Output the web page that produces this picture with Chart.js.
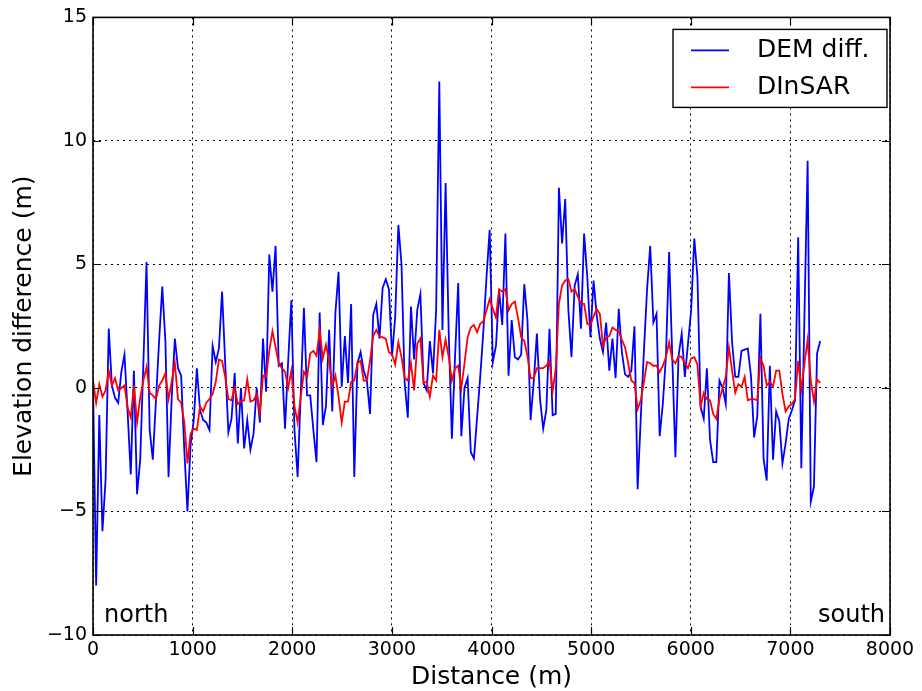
<!DOCTYPE html>
<html>
<head>
<meta charset="utf-8">
<title>Elevation difference profile</title>
<script src="https://cdn.jsdelivr.net/npm/chart.js@4/dist/chart.umd.min.js"></script>
<style>
  html, body { margin: 0; padding: 0; background: #fff; }
  #wrap { width: 922px; height: 691px; }
</style>
</head>
<body>
<div id="wrap"><canvas id="profileChart" width="922" height="691"></canvas></div>
<script>
// profile sample spacing along the track (m)
const sampleStep = 31.6;

// DEM difference along the profile (m), one value per sample
const demDiff = [
  0.2, -8.0, -1.1, -5.8, -3.7, 2.4, 0.1, -0.4, -0.6, 0.65,
  1.35, -1.0, -3.5, 0.7, -4.3, -2.9, 1.0, 5.1, -1.7, -2.9,
  -0.5, 1.9, 4.1, 1.9, -3.6, -0.4, 2.0, 0.8, 0.5, -2.5,
  -5.0, -2.3, -1.3, 0.8, -0.9, -1.3, -1.4, -1.7, 1.7, 1.05,
  1.6, 3.9, 1.0, -1.8, -1.25, 0.6, -2.25, 0, -2.45, -1.3,
  -2.5, -1.85, 0, -1.4, 2.0, -0.15, 5.4, 3.9, 5.75, 0.9,
  1.0, -1.65, 1.1, 3.55, -1.7, -3.6, -0.2, 3.25, -0.3, -0.3,
  -1.7, -3.0, 3.05, -1.5, -0.75, 2.35, -0.95, 3.05, 4.7, 0.05,
  2.1, 0.2, 3.4, -3.6, 1.0, 1.45, 0.7, 0.3, -1.05, 2.95,
  3.4, 2.0, 4.05, 4.4, 4.0, 1.3, 2.9, 6.6, 5.0, 0.2,
  -1.2, 3.3, 1.15, 3.15, 3.8, 0.2, -0.1, 1.9, 0.6, 3.15,
  12.4, 2.35, 8.3, 2.2, -2.05, 1.25, 4.25, -1.95, 0, 0.4,
  -2.6, -2.85, -1.2, 0.45, 2.3, 4.5, 6.4, 1.05, 1.7, 3.95,
  2.55, 6.25, 0.5, 2.75, 1.25, 1.15, 1.35, 4.2, 2.75, -1.3,
  0.25, 2.2, -0.45, -1.65, -0.9, 2.4, -1.1, -1.05, 8.1, 5.85,
  7.65, 3.15, 1.25, 4.15, 4.6, 2.4, 6.25, 4.5, 2.05, 4.35,
  2.95, 2.0, 1.45, 2.65, 0.7, 2.0, 0.4, 3.2, 1.45, 0.55,
  0.45, 0.7, 2.5, -4.1, -1.2, 1.5, 4.0, 5.75, 2.65, 3.0,
  -1.95, -0.65, 1.3, 5.5, 1.25, -2.8, 1.3, 2.2, 0.45, 1.8,
  3.15, 6.05, 4.5, -0.75, -1.25, 0.8, -2.1, -3.0, -3.0, 0.3,
  0, -0.65, 4.65, 1.85, 0.45, 0.45, 1.5, 1.55, 1.6, 0.5,
  -2.0, -1.15, 3.0, -2.85, -3.75, 0.9, -2.9, -0.95, -1.35, -3.05,
  -2.25, -1.25, -0.9, -0.5, 6.1, -3.25, 3.0, 9.2, -4.6, -4.0,
  1.4, 1.9
];

// DInSAR derived elevation difference (m), same samples
const dinsar = [
  0.3, -0.6, 0.15, -0.35, -0.1, 0.7, 0.1, 0.4, -0.1, 0.0,
  0.1, -0.8, -1.2, 0.1, -1.4, -0.4, 0.3, 0.85, -0.2, -0.3,
  -0.45, 0.1, 0.3, 0.6, -0.45, 0.25, 1.0, -0.45, -0.6, -1.4,
  -3.05, -1.85, -1.65, -1.7, -0.75, -0.95, -0.6, -0.45, -0.25, 0.25,
  1.15, 1.1, 0.45, -0.45, -0.5, 0, -0.65, -0.55, -0.5, 0.35,
  -0.55, -0.5, -0.25, -1.0, 0.5, 0.45, 1.5, 2.3, 1.65, 1.0,
  0.8, 0.65, 0, 0.7, -0.75, -1.4, -0.35, 0.65, 0.45, 1.4,
  1.5, 1.3, 2.35, 1.2, 1.75, 1.1, 0.05, 0.5, -0.35, -1.4,
  -0.55, -0.55, 0.25, 0.3, 1.0, 1.1, 0.3, 0.3, 1.1, 2.1,
  2.35, 2.1, 2.05, 2.0, 1.45, 1.35, 0.95, 1.85, 1.25, 0.4,
  0.3, 1.0, -0.1, 1.8, 2.0, 0.2, 0.25, -0.35, 0.5, 0.3,
  2.35, 1.25, 1.95, 1.25, 0.3, 0.8, 0.9, 0, 1.0, 2.05,
  2.45, 2.55, 2.25, 2.6, 2.7, 3.15, 3.6, 3.2, 2.85, 4.0,
  3.9, 4.0, 3.15, 3.4, 3.5, 2.85, 2.05, 1.9, 1.3, 0.4,
  0.4, 0.8, 0.8, 0.8, 0.9, 1.1, -0.15, 0.8, 3.4, 4.15,
  4.35, 4.4, 3.9, 4.0, 3.7, 3.4, 3.4, 2.6, 2.55, 2.9,
  3.2, 3.0, 1.7, 2.05, 2.1, 2.45, 2.35, 2.3, 1.95, 1.65,
  1.0, 0.3, 0.2, -0.85, -0.5, 0.25, 1.05, 1.0, 0.9, 0.9,
  0.65, 0.9, 1.25, 1.85, 1.15, 1.0, 1.3, 1.25, 1.0, 0.8,
  1.2, 1.25, 0.95, -0.75, -0.2, -0.45, -0.5, -1.05, -1.25, -0.45,
  0, 0.45, 1.65, 0.7, -0.2, 0.15, 0.05, 0.45, -0.5, -0.45,
  -0.45, -0.5, 1.2, 0.9, 0.1, 0.25, 0.05, 0.7, 0.7, -0.25,
  -0.95, -0.75, -0.65, -0.45, 1.1, -0.05, 1.0, 1.95, 0.3, -0.55,
  0.35, 0.2
];

// axes
const xTicks = [0, 1000, 2000, 3000, 4000, 5000, 6000, 7000, 8000];
const yTicks = [-10, -5, 0, 5, 10, 15];
const seriesNames = ["DEM diff.", "DInSAR"];
const cornerLabels = ["north", "south"];

const FONT = "'DejaVu Sans', 'Liberation Sans', sans-serif";

function toPoints(values) {
  return values.map((v, i) => ({ x: i * sampleStep, y: v }));
}

function fmtTick(v) {
  return v < 0 ? "\u2212" + Math.abs(v) : String(v);
}

// frame, inward ticks, legend box and the north/south notes
const decorPlugin = {
  id: "decor",
  afterDatasetsDraw(chart) {
    const ctx = chart.ctx;
    const a = chart.chartArea;
    const xs = chart.scales.x;
    const ys = chart.scales.y;
    ctx.save();
    ctx.strokeStyle = "#000";

    // tick marks pointing into the plot
    ctx.lineWidth = 1.2;
    ctx.beginPath();
    xTicks.forEach((t) => {
      const p = Math.round(xs.getPixelForValue(t)) + 0.5;
      ctx.moveTo(p, a.bottom); ctx.lineTo(p, a.bottom - 8);
      ctx.moveTo(p, a.top); ctx.lineTo(p, a.top + 8);
    });
    yTicks.forEach((t) => {
      const p = Math.round(ys.getPixelForValue(t)) + 0.5;
      ctx.moveTo(a.left, p); ctx.lineTo(a.left + 8, p);
      ctx.moveTo(a.right, p); ctx.lineTo(a.right - 8, p);
    });
    ctx.stroke();

    // axes frame
    ctx.lineWidth = 1.6;
    ctx.strokeRect(a.left, a.top, a.right - a.left, a.bottom - a.top);

    // legend
    const bx = a.right - 217, by = a.top + 12, bw = 214, bh = 78;
    ctx.fillStyle = "#fff";
    ctx.fillRect(bx, by, bw, bh);
    ctx.lineWidth = 1.4;
    ctx.strokeRect(bx, by, bw, bh);
    ctx.font = "25px " + FONT;
    ctx.textBaseline = "middle";
    ctx.textAlign = "left";
    chart.data.datasets.forEach((ds, i) => {
      const ly = by + 21 + i * 37;
      ctx.strokeStyle = ds.borderColor;
      ctx.lineWidth = 1.8;
      ctx.beginPath();
      ctx.moveTo(bx + 18, ly);
      ctx.lineTo(bx + 56, ly);
      ctx.stroke();
      ctx.fillStyle = "#000";
      ctx.fillText(ds.label, bx + 84, ly);
    });

    // corner notes
    ctx.font = "24px " + FONT;
    ctx.textBaseline = "alphabetic";
    ctx.fillStyle = "#000";
    ctx.textAlign = "left";
    ctx.fillText(cornerLabels[0], a.left + 11, a.bottom - 13);
    ctx.textAlign = "right";
    ctx.fillText(cornerLabels[1], a.right - 5, a.bottom - 13);
    ctx.restore();
  }
};

const ctx = document.getElementById("profileChart").getContext("2d");

new Chart(ctx, {
  type: "line",
  data: {
    datasets: [
      {
        label: seriesNames[0],
        data: toPoints(demDiff),
        borderColor: "#0000ff",
        borderWidth: 1.8,
        pointRadius: 0,
        tension: 0,
        order: 1,
      },
      {
        label: seriesNames[1],
        data: toPoints(dinsar),
        borderColor: "#ff0000",
        borderWidth: 1.8,
        pointRadius: 0,
        tension: 0,
        order: 0,
      },
    ],
  },
  options: {
    responsive: false,
    animation: false,
    layout: { padding: { top: 17, right: 32, left: 0, bottom: 0 } },
    plugins: {
      legend: { display: false },
      tooltip: { enabled: false },
    },
    scales: {
      x: {
        type: "linear",
        min: 0,
        max: 8000,
        afterBuildTicks: (scale) => {
          scale.ticks = xTicks.map((v) => ({ value: v }));
        },
        afterFit: (scale) => { scale.height = 56; },
        ticks: {
          padding: 4,
          color: "#000",
          font: { family: FONT, size: 19 },
          maxRotation: 0,
          callback: (v) => fmtTick(v),
        },
        grid: { color: "#000", lineWidth: 1, drawTicks: false },
        border: { display: false, dash: [2, 4] },
        title: {
          display: true,
          text: "Distance (m)",
          color: "#000",
          font: { family: FONT, size: 25, lineHeight: 1 },
          padding: { top: 0, bottom: 1 },
        },
      },
      y: {
        type: "linear",
        min: -10,
        max: 15,
        afterBuildTicks: (scale) => {
          scale.ticks = yTicks.map((v) => ({ value: v }));
        },
        afterFit: (scale) => { scale.width = 93; },
        ticks: {
          padding: 6,
          color: "#000",
          font: { family: FONT, size: 19 },
          callback: (v) => fmtTick(v),
        },
        grid: { color: "#000", lineWidth: 1, drawTicks: false },
        border: { display: false, dash: [2, 4] },
        title: {
          display: true,
          text: "Elevation difference (m)",
          color: "#000",
          font: { family: FONT, size: 25, lineHeight: 1 },
          padding: { top: 12, bottom: 0 },
        },
      },
    },
  },
  plugins: [decorPlugin],
});
</script>
</body>
</html>
